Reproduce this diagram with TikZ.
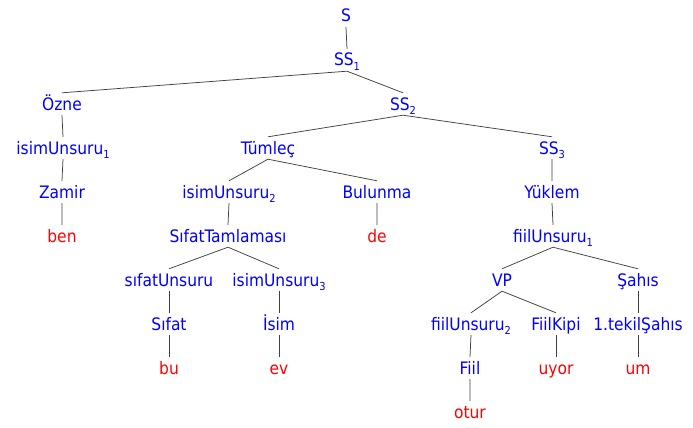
\documentclass[tikz,border=0pt]{standalone}
\usepackage{fontspec}
\setmainfont{DejaVu Sans Condensed}
\newcommand{\idx}[1]{\raisebox{-0.45ex}{\fontsize{11}{12}\selectfont #1}}
\begin{document}
\begin{tikzpicture}[x=1pt,y=-1pt,
	nt/.style={text=blue,inner sep=0pt,text height=17pt,text depth=5pt,font=\fontsize{17.2}{19}\selectfont},
	lf/.style={nt,text=red},
	edge/.style={black!75,line width=0.75pt}]
		\useasboundingbox (0,0) rectangle (693,428);
		% inner nodes
		\node[nt] (S) at (346,16) {S};
		\node[nt] (SSa) at (347,60) {SS\idx{1}};
		\node[nt] (Ozne) at (62,104) {Özne};
		\node[nt] (SSb) at (403,104) {SS\idx{2}};
		\node[nt] (isimA) at (63,148) {isimUnsuru\idx{1}};
		\node[nt] (Tumlec) at (268,148) {Tümleç};
		\node[nt] (SSc) at (552,148) {SS\idx{3}};
		\node[nt] (Zamir) at (62,192) {Zamir};
		\node[nt] (isimB) at (229,192) {isimUnsuru\idx{2}};
		\node[nt] (Bulunma) at (377,192) {Bulunma};
		\node[nt] (Yuklem) at (552,192) {Yüklem};
		\node[nt] (SifatTam) at (228,236) {SıfatTamlaması};
		\node[nt] (fiilA) at (553,236) {fiilUnsuru\idx{1}};
		\node[nt] (sifatU) at (169,280) {sıfatUnsuru};
		\node[nt] (isimC) at (279,280) {isimUnsuru\idx{3}};
		\node[nt] (VP) at (502,280) {VP};
		\node[nt] (Sahis) at (638,280) {Şahıs};
		\node[nt] (Sifat) at (169,324) {Sıfat};
		\node[nt] (Isim) at (279,324) {İsim};
		\node[nt] (fiilB) at (471,324) {fiilUnsuru\idx{2}};
		\node[nt] (FiilKipi) at (556,324) {FiilKipi};
		\node[nt] (tekil) at (638,324) {1.tekilŞahıs};
		\node[nt] (Fiil) at (470,368) {Fiil};
		% leaves
		\node[lf] (ben) at (62,236) {ben};
		\node[lf] (de) at (377,236) {de};
		\node[lf] (bu) at (169,368) {bu};
		\node[lf] (ev) at (279,368) {ev};
		\node[lf] (uyor) at (556,368) {uyor};
		\node[lf] (um) at (638,368) {um};
		\node[lf] (otur) at (470,412) {otur};
		% branches
		\draw[edge] (S.south)--(SSa.north) (SSa.south)--(Ozne.north) (SSa.south)--(SSb.north);
		\draw[edge] (Ozne.south)--(isimA.north) (isimA.south)--(Zamir.north) (Zamir.south)--(ben.north);
		\draw[edge] (SSb.south)--(Tumlec.north) (SSb.south)--(SSc.north);
		\draw[edge] (Tumlec.south)--(isimB.north) (Tumlec.south)--(Bulunma.north) (Bulunma.south)--(de.north);
		\draw[edge] (isimB.south)--(SifatTam.north) (SifatTam.south)--(sifatU.north) (SifatTam.south)--(isimC.north);
		\draw[edge] (sifatU.south)--(Sifat.north) (Sifat.south)--(bu.north) (isimC.south)--(Isim.north) (Isim.south)--(ev.north);
		\draw[edge] (SSc.south)--(Yuklem.north) (Yuklem.south)--(fiilA.north) (fiilA.south)--(VP.north) (fiilA.south)--(Sahis.north);
		\draw[edge] (VP.south)--(fiilB.north) (VP.south)--(FiilKipi.north) (fiilB.south)--(Fiil.north) (Fiil.south)--(otur.north);
		\draw[edge] (FiilKipi.south)--(uyor.north) (Sahis.south)--(tekil.north) (tekil.south)--(um.north);
		\end{tikzpicture}
\end{document}
